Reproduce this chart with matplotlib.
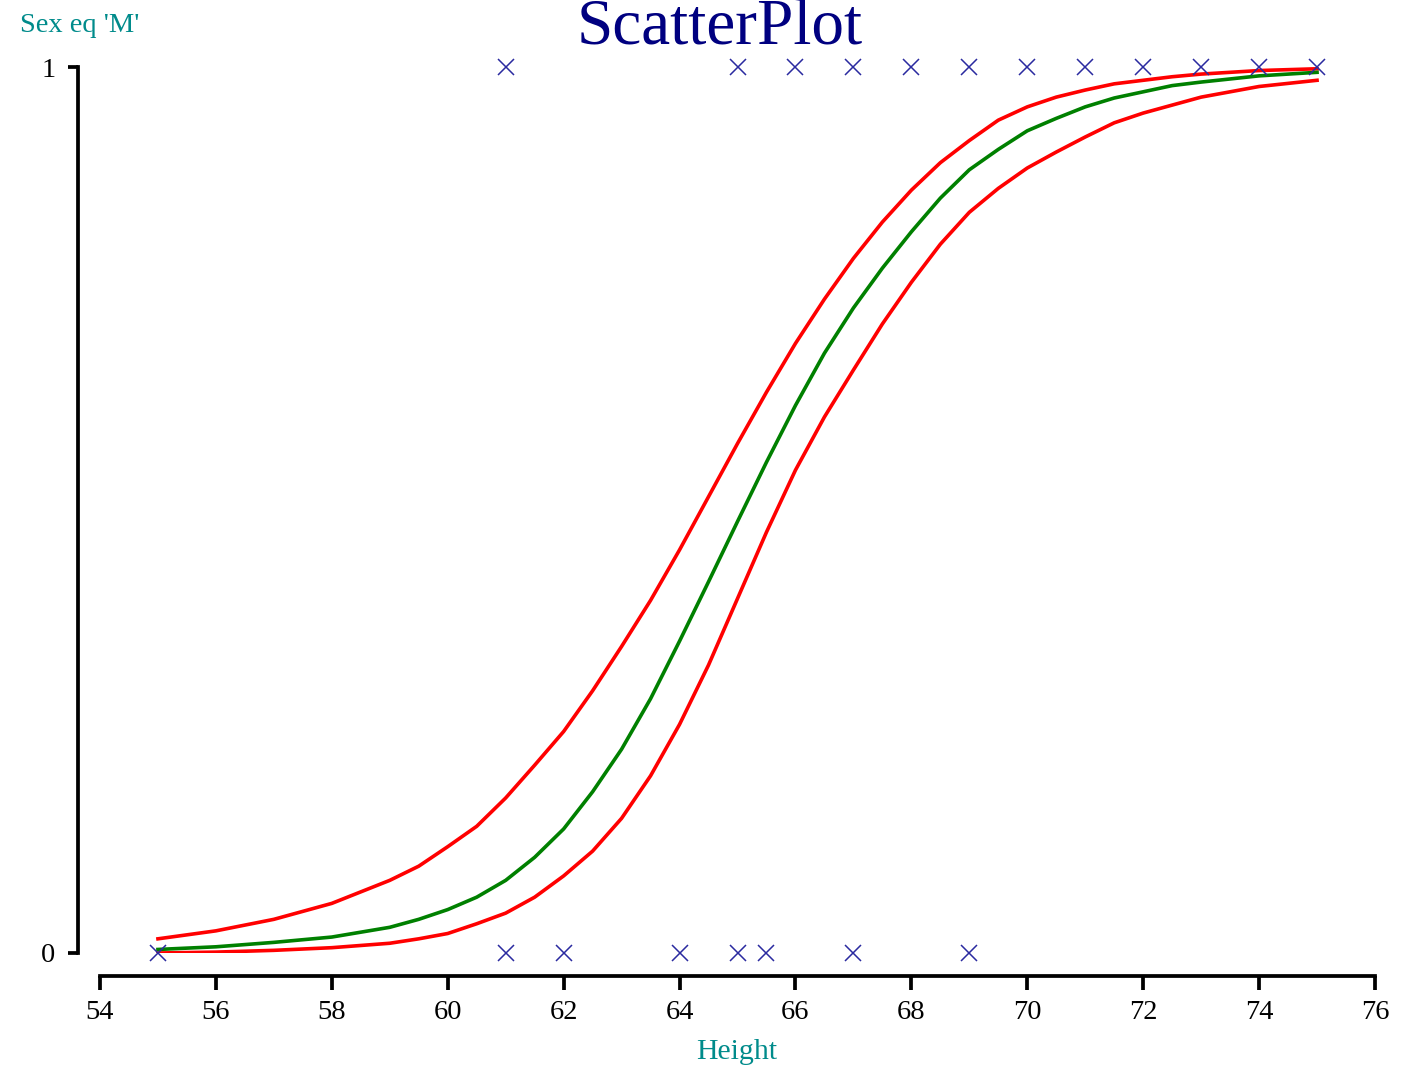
import matplotlib.pyplot as plt

# observed data (Height vs Sex eq 'M')
height_m = [61, 65, 66, 67, 68, 69, 70, 71, 72, 73, 74, 75]
height_f = [55, 61, 62, 64, 65, 65.5, 67, 69]

# fitted curve and bounds
fit_x = [55, 56, 57, 58, 59, 59.5, 60, 60.5, 61, 61.5, 62, 62.5, 63, 63.5, 64, 64.5,
         65, 65.5, 66, 66.5, 67, 67.5, 68, 68.5, 69, 69.5, 70, 70.5, 71, 71.5, 72,
         72.5, 73, 74, 75]
fit_mid = [0.004, 0.007, 0.012, 0.018, 0.029, 0.038, 0.049, 0.063, 0.082, 0.108, 0.14,
           0.182, 0.23, 0.287, 0.352, 0.419, 0.487, 0.554, 0.618, 0.677, 0.728, 0.773,
           0.814, 0.852, 0.884, 0.907, 0.928, 0.942, 0.955, 0.965, 0.972, 0.979, 0.983,
           0.99, 0.994]
fit_upper = [0.016, 0.025, 0.038, 0.056, 0.082, 0.098, 0.12, 0.143, 0.175, 0.212, 0.25,
             0.296, 0.346, 0.398, 0.455, 0.515, 0.575, 0.633, 0.688, 0.738, 0.784, 0.825,
             0.861, 0.892, 0.917, 0.94, 0.955, 0.966, 0.974, 0.981, 0.985, 0.989, 0.992,
             0.996, 0.998]
fit_lower = [0.0, 0.001, 0.003, 0.006, 0.011, 0.016, 0.022, 0.033, 0.045, 0.063, 0.087,
             0.115, 0.152, 0.2, 0.258, 0.325, 0.40, 0.475, 0.545, 0.605, 0.658, 0.71,
             0.757, 0.8, 0.836, 0.863, 0.886, 0.904, 0.921, 0.937, 0.948, 0.957, 0.966,
             0.978, 0.985]

x_ticks = list(range(54, 77, 2))

plt.rcParams['font.family'] = ['Liberation Serif', 'DejaVu Serif']

fig = plt.figure(figsize=(14.08, 10.74), dpi=100)
ax = fig.add_axes([100 / 1408, 121 / 1074, 1275 / 1408, 886 / 1074])

ax.plot(fit_x, fit_upper, color='#ff0000', lw=2.6, solid_joinstyle='round')
ax.plot(fit_x, fit_lower, color='#ff0000', lw=2.6, solid_joinstyle='round')
ax.plot(fit_x, fit_mid, color='#008000', lw=2.6, solid_joinstyle='round')

ax.plot(height_m, [1] * len(height_m), ls='none', marker='x', ms=11, mew=1.1,
        color='#2a2aa0', clip_on=False)
ax.plot(height_f, [0] * len(height_f), ls='none', marker='x', ms=11, mew=1.1,
        color='#2a2aa0', clip_on=False)

ax.set_xlim(54, 76)
ax.set_ylim(0, 1)
ax.set_xticks(x_ticks)
ax.set_yticks([0, 1])

for s in ['top', 'right']:
    ax.spines[s].set_visible(False)
ax.spines['left'].set_position(('outward', 16))
ax.spines['bottom'].set_position(('outward', 16.5))
ax.spines['left'].set_linewidth(2.7)
ax.spines['bottom'].set_linewidth(2.7)
ax.tick_params(axis='x', length=10, width=2.7, labelsize=20.5, pad=7)
ax.tick_params(axis='y', length=7, width=2.7, labelsize=20.5, pad=9)

fig.text(737 / 1408, 1 - 1052 / 1074, 'Height', color='#008b8b', fontsize=21.5,
         ha='center', va='center')
fig.text(20 / 1408, 1 - 25 / 1074, "Sex eq 'M'", color='#008b8b', fontsize=20.5,
         ha='left', va='center')
fig.text(720 / 1408, 1 - 29 / 1074, 'ScatterPlot', color='#000080', fontsize=47,
         ha='center', va='center')

fig.savefig('out.png', dpi=100)
